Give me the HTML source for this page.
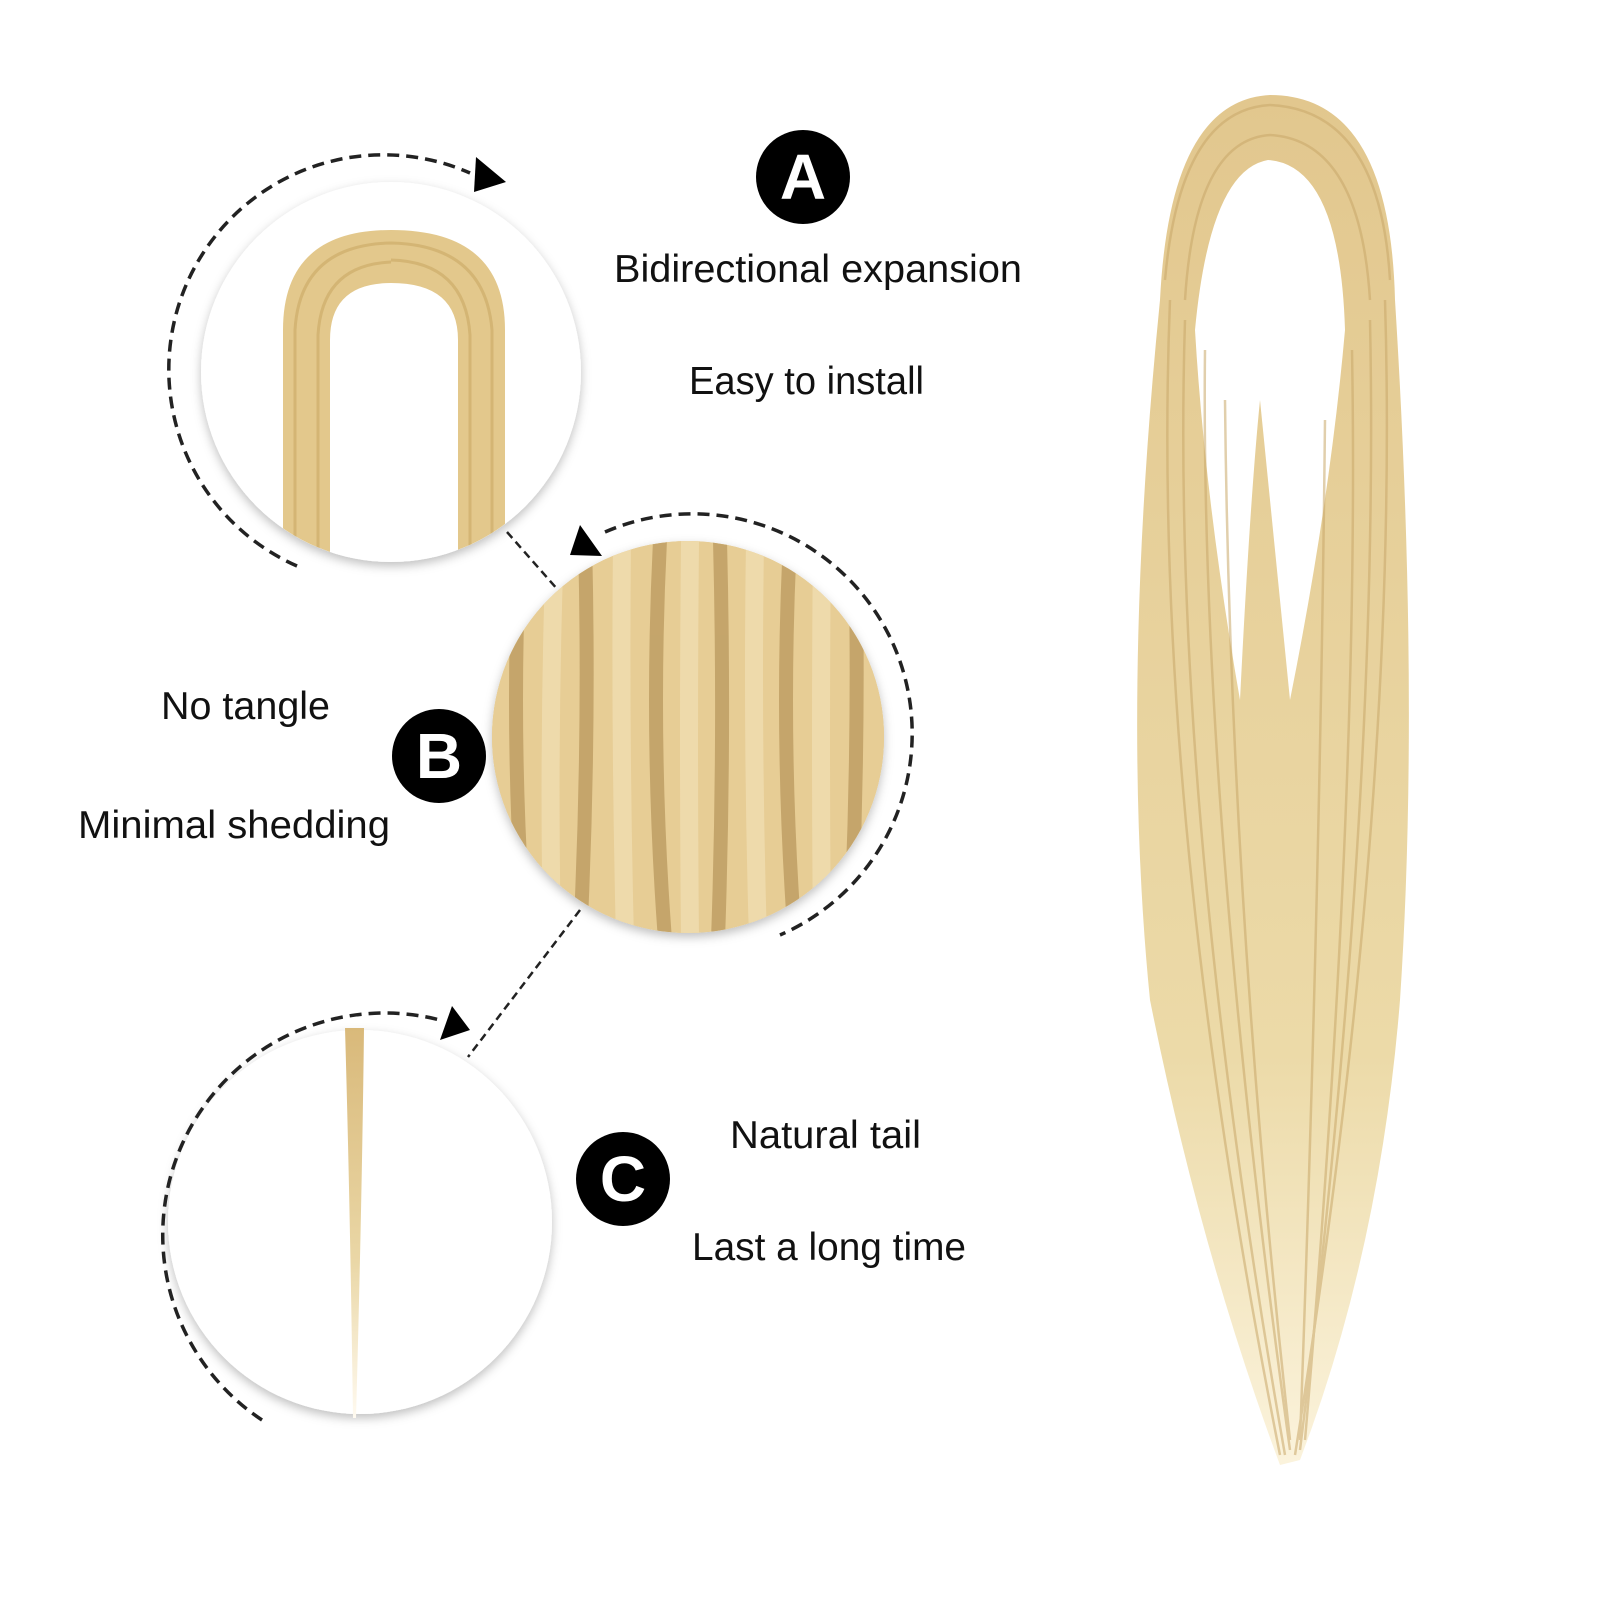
<!DOCTYPE html>
<html><head><meta charset="utf-8"><style>
html,body{margin:0;padding:0;background:#fff}
svg{display:block}
text{font-family:"Liberation Sans",sans-serif;fill:#111}
</style></head><body>
<svg width="1600" height="1600" viewBox="0 0 1600 1600" xmlns="http://www.w3.org/2000/svg">
<defs>
<filter id="sh" x="-20%" y="-20%" width="140%" height="140%"><feDropShadow dx="0" dy="4" stdDeviation="5" flood-color="#000" flood-opacity="0.25"/></filter>
<linearGradient id="tail" x1="0" y1="0" x2="0" y2="1"><stop offset="0" stop-color="#d9b97a"/><stop offset="0.6" stop-color="#ead7a6"/><stop offset="1" stop-color="#fffaf0"/></linearGradient>
<linearGradient id="hair" x1="0" y1="0" x2="0" y2="1"><stop offset="0" stop-color="#e2c78e"/><stop offset="0.7" stop-color="#ecdaa8"/><stop offset="1" stop-color="#fbf3dc"/></linearGradient>
<clipPath id="cb"><circle cx="688" cy="737" r="196"/></clipPath>
<clipPath id="ca"><circle cx="391" cy="372" r="190"/></clipPath>
</defs>

<!-- Circle A -->
<circle cx="391" cy="372" r="190" fill="#fff" filter="url(#sh)"/>
<g clip-path="url(#ca)">
<path d="M283 560 L283 330 Q283 230 391 230 Q505 230 505 330 L505 560 L458 560 L458 340 Q458 283 391 283 Q330 283 330 340 L330 560 Z" fill="#e3c88c"/>
<path d="M295 560 L295 330 Q300 245 391 243 M318 560 L318 335 Q322 265 391 262 M470 560 L470 335 Q465 262 391 260 M492 560 L492 330 Q485 245 391 243" stroke="#c9a864" stroke-width="3" fill="none" opacity="0.6"/>
</g>
<path d="M297 566 A214 214 0 1 1 470 173" fill="none" stroke="#222" stroke-width="3.5" stroke-dasharray="12 7"/>
<polygon points="476,157 506,182 474,192" fill="#000"/>

<!-- Circle B -->
<line x1="507" y1="532" x2="558" y2="590" stroke="#222" stroke-width="2.5" stroke-dasharray="8 5"/>
<line x1="580" y1="910" x2="468" y2="1057" stroke="#222" stroke-width="2.5" stroke-dasharray="8 5"/>
<circle cx="688" cy="737" r="196" fill="#e4c88f" filter="url(#sh)"/>
<g clip-path="url(#cb)">
<rect x="480" y="530" width="420" height="420" fill="#e7cd95"/>
<g stroke="#a9864a" stroke-width="14" fill="none" opacity="0.55">
<path d="M520 540 Q510 740 525 940"/><path d="M585 540 Q590 740 580 940"/><path d="M660 540 Q650 740 665 940"/><path d="M720 540 Q725 740 718 940"/><path d="M790 540 Q780 740 795 940"/><path d="M855 540 Q860 740 850 940"/>
</g>
<g stroke="#f4e3bb" stroke-width="18" fill="none" opacity="0.6">
<path d="M555 540 Q548 740 552 940"/><path d="M622 540 Q620 740 625 940"/><path d="M690 540 Q688 740 690 940"/><path d="M755 540 Q752 740 758 940"/><path d="M822 540 Q820 740 822 940"/>
</g>
</g>
<path d="M605 532 A218 218 0 0 1 780 935" fill="none" stroke="#222" stroke-width="3.5" stroke-dasharray="12 7"/>
<polygon points="580,525 602,556 570,555" fill="#000"/>

<!-- Circle C -->
<circle cx="360" cy="1222" r="192" fill="#fff" filter="url(#sh)"/>
<path d="M345 1028 L364 1028 Q362 1200 356 1418 L353 1418 Q350 1200 345 1028 Z" fill="url(#tail)"/>
<path d="M262 1420 A222 222 0 0 1 440 1020" fill="none" stroke="#222" stroke-width="3.5" stroke-dasharray="12 7"/>
<polygon points="452,1006 470,1030 440,1040" fill="#000"/>

<!-- Badges -->
<circle cx="803" cy="177" r="47" fill="#000"/>
<text x="803" y="199" font-size="64" font-weight="bold" text-anchor="middle" style="fill:#fff">A</text>
<circle cx="439" cy="756" r="47" fill="#000"/>
<text x="439" y="778" font-size="64" font-weight="bold" text-anchor="middle" style="fill:#fff">B</text>
<circle cx="623" cy="1179" r="47" fill="#000"/>
<text x="623" y="1201" font-size="64" font-weight="bold" text-anchor="middle" style="fill:#fff">C</text>

<!-- Labels -->
<text x="614" y="282" font-size="39" textLength="408" lengthAdjust="spacingAndGlyphs">Bidirectional expansion</text>
<text x="689" y="394" font-size="39" textLength="235" lengthAdjust="spacingAndGlyphs">Easy to install</text>
<text x="161" y="719" font-size="39" textLength="169" lengthAdjust="spacingAndGlyphs">No tangle</text>
<text x="78" y="838" font-size="39" textLength="312" lengthAdjust="spacingAndGlyphs">Minimal shedding</text>
<text x="730" y="1148" font-size="39" textLength="191" lengthAdjust="spacingAndGlyphs">Natural tail</text>
<text x="692" y="1260" font-size="39" textLength="274" lengthAdjust="spacingAndGlyphs">Last a long time</text>

<!-- Hair bundle -->
<g>
<path d="M1160 300 Q1170 100 1270 95 Q1390 95 1395 300 Q1420 700 1400 1000 Q1380 1250 1300 1460 L1280 1465 Q1200 1250 1150 1000 Q1120 700 1160 300 Z" fill="url(#hair)"/>
<path d="M1195 330 Q1210 170 1268 160 Q1340 165 1345 330 Q1330 500 1290 700 Q1270 500 1260 400 Q1250 500 1240 700 Q1205 500 1195 330 Z" fill="#fff"/>
<g stroke="#c9a86a" stroke-width="2.5" fill="none" opacity="0.55">
<path d="M1170 300 Q1150 800 1280 1455"/><path d="M1185 320 Q1170 800 1285 1455"/><path d="M1205 350 Q1200 800 1290 1450"/><path d="M1225 400 Q1230 900 1290 1440"/>
<path d="M1385 300 Q1400 800 1295 1455"/><path d="M1370 320 Q1380 800 1300 1450"/><path d="M1352 350 Q1360 800 1305 1440"/><path d="M1325 420 Q1320 900 1300 1440"/>
<path d="M1165 280 Q1180 110 1270 105 Q1380 110 1390 280"/><path d="M1185 300 Q1195 140 1270 135 Q1360 140 1370 300"/>
</g>
</g>
</svg>
</body></html>
